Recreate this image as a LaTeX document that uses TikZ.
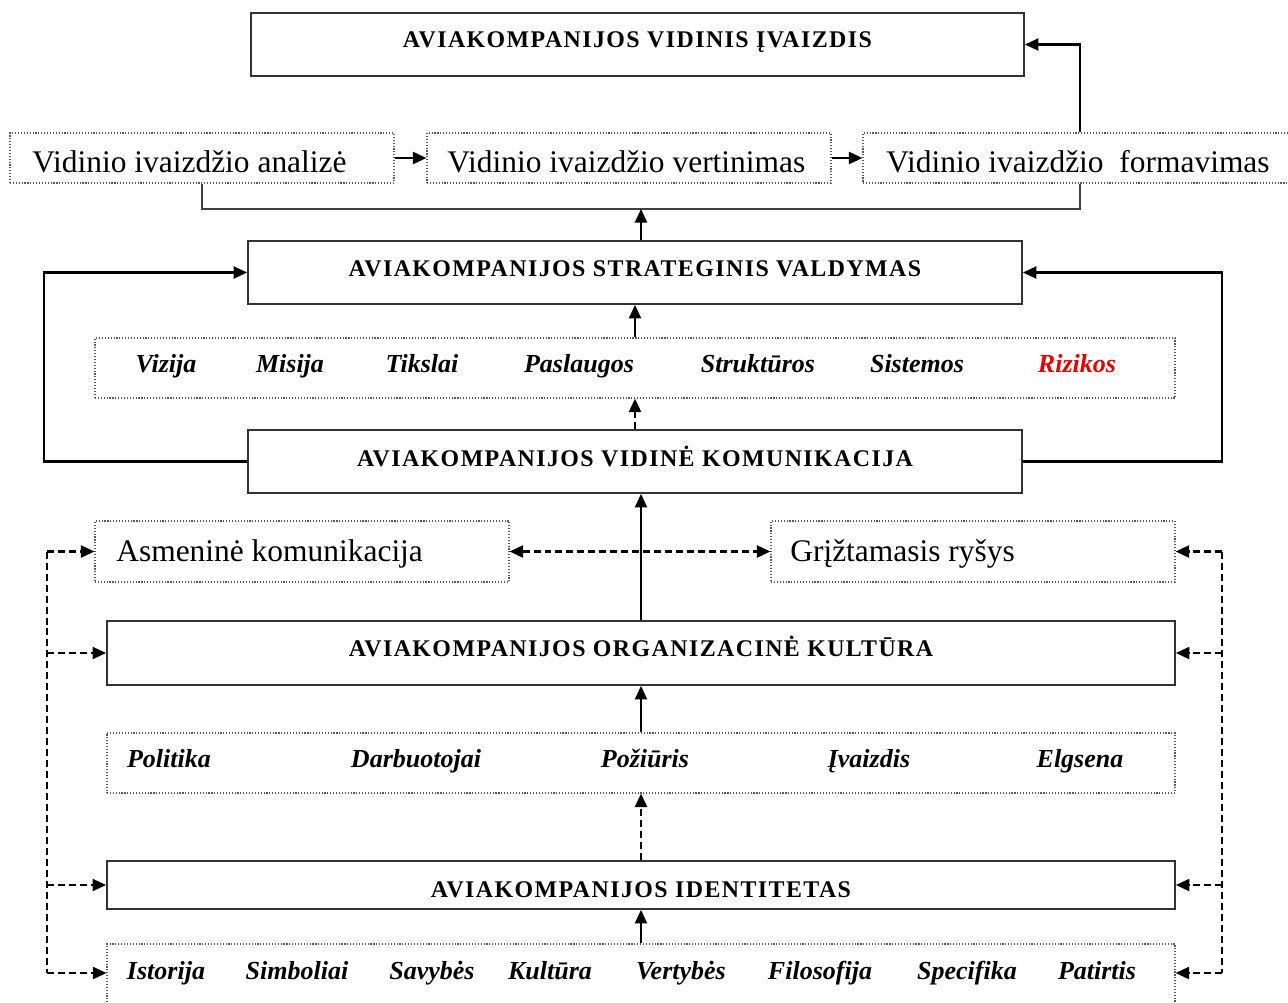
\documentclass[tikz,border=0pt]{standalone}
\usepackage{fontspec}
\setmainfont{Liberation Serif}
\usetikzlibrary{arrows.meta,fit}
\definecolor{riskred}{RGB}{235,0,0}
\begin{document}
\begin{tikzpicture}[x=0.02cm,y=-0.02cm,
  >={Triangle[length=0.27cm,width=0.24cm]},
  solidbox/.style={draw=black!80, line width=1pt, inner sep=0pt},
  dotbox/.style={draw=black!65, line width=0.65pt, densely dotted, inner sep=0pt},
  captext/.style={anchor=base, inner sep=0pt, font=\fontsize{13.6}{16}\selectfont\bfseries\addfontfeatures{LetterSpace=6}},
  plaintext/.style={anchor=base west, inner sep=0pt, font=\fontsize{17.9}{21}\selectfont},
  itemtext/.style={anchor=base, inner sep=0pt, font=\fontsize{14.8}{17}\selectfont\bfseries\itshape},
  arrline/.style={->, line width=1.3pt},
  dashline/.style={line width=1.3pt, dash pattern=on 0.14cm off 0.08cm},
  darrline/.style={->, dashline},
  thinline/.style={line width=0.8pt, draw=black!75},
]
\useasboundingbox (0,0) rectangle (1288,1002);

% ---------- boxes ----------
\node[solidbox, fit={(251,13)(1024,76)}] (top) {};
\node[captext] (topT) at (637.5,47.5) {AVIAKOMPANIJOS VIDINIS ĮVAIZDIS};

\node[dotbox, fit={(10,133)(394,183)}] (an) {};
\node[plaintext] (anT) at (32,172.5) {Vidinio ivaizdžio analizė};
\node[dotbox, fit={(427,133)(831,183)}] (ve) {};
\node[plaintext] (veT) at (447,172.5) {Vidinio ivaizdžio vertinimas};
\node[dotbox, fit={(863,133)(1297,183)}] (fo) {};
\node[plaintext] (foT) at (886,172.5) {Vidinio ivaizdžio\ \ formavimas};

\node[solidbox, fit={(248,241)(1022,304)}] (strat) {};
\node[captext] (stratT) at (635,276.5) {AVIAKOMPANIJOS STRATEGINIS VALDYMAS};

\node[dotbox, fit={(95,338)(1175,398)}] (goals) {};
\node[itemtext] (g1) at (166,372) {Vizija};
\node[itemtext] (g2) at (290,372) {Misija};
\node[itemtext] (g3) at (422,372) {Tikslai};
\node[itemtext] (g4) at (579,372) {Paslaugos};
\node[itemtext] (g5) at (758,372) {Struktūros};
\node[itemtext] (g6) at (917,372) {Sistemos};
\node[itemtext, text=riskred] (g7) at (1077,372) {Rizikos};

\node[solidbox, fit={(248,430)(1022,493)}] (kom) {};
\node[captext] (komT) at (635,466) {AVIAKOMPANIJOS VIDINĖ KOMUNIKACIJA};

\node[dotbox, fit={(95,521)(509,582)}] (asm) {};
\node[plaintext] (asmT) at (116,561) {Asmeninė komunikacija};
\node[dotbox, fit={(771,521)(1175,582)}] (grz) {};
\node[plaintext] (grzT) at (790,561) {Grįžtamasis ryšys};

\node[solidbox, fit={(107,621)(1175,685)}] (org) {};
\node[captext] (orgT) at (641,656.5) {AVIAKOMPANIJOS ORGANIZACINĖ KULTŪRA};

\node[dotbox, fit={(107,733)(1175,793)}] (cult) {};
\node[itemtext] (c1) at (169,767) {Politika};
\node[itemtext] (c2) at (416,767) {Darbuotojai};
\node[itemtext] (c3) at (645,767) {Požiūris};
\node[itemtext] (c4) at (869,767) {Įvaizdis};
\node[itemtext] (c5) at (1080,767) {Elgsena};

\node[solidbox, fit={(107,861)(1175,909)}] (ident) {};
\node[captext] (identT) at (641,897) {AVIAKOMPANIJOS IDENTITETAS};

\node[dotbox, fit={(107,944)(1175,1012)}] (hist) {};
\node[itemtext] (h1) at (166,979) {Istorija};
\node[itemtext] (h2) at (297,979) {Simboliai};
\node[itemtext] (h3) at (432,979) {Savybės};
\node[itemtext] (h4) at (550,979) {Kultūra};
\node[itemtext] (h5) at (681,979) {Vertybės};
\node[itemtext] (h6) at (820,979) {Filosofija};
\node[itemtext] (h7) at (967,979) {Specifika};
\node[itemtext] (h8) at (1097,979) {Patirtis};

% ---------- helper coordinates ----------
\coordinate (bk) at (641,209);
\coordinate (lx) at (44,0);
\coordinate (rx) at (1222,0);
\coordinate (dlx) at (47,0);
\coordinate (drx) at (1222,0);
\coordinate (hy) at (0,973);

% ---------- connectors ----------
\draw[arrline] (an.east) -- (ve.west);
\draw[arrline] (ve.east) -- (fo.west);
\draw[thinline] (an.south) |- (bk) -| (fo.south);
\draw[arrline] (strat.north -| bk) -- (bk);
\draw[arrline] (fo.north) |- (top.east);

\draw[arrline] (goals.north) -- (strat.south);
\draw[darrline] (kom.north) -- (goals.south);
\draw[arrline] (kom.west) -- (kom.west -| lx) |- (strat.west);
\draw[arrline] (kom.east) -- (kom.east -| rx) |- (strat.east);

\draw[arrline] (org.north) -- (org.north |- kom.south);
\draw[dashline, <->] (asm.east) -- (grz.west);
\draw[arrline] (cult.north) -- (org.south);
\draw[darrline] (ident.north) -- (cult.south);
\draw[arrline] (hist.north) -- (ident.south);

% left dashed feed
\draw[dashline] (asm.west -| dlx) -- (hy -| dlx);
\draw[darrline] (asm.west -| dlx) -- (asm.west);
\draw[darrline] (org.west -| dlx) -- (org.west);
\draw[darrline] (ident.west -| dlx) -- (ident.west);
\draw[darrline] (hy -| dlx) -- (hy -| hist.west);

% right dashed feed
\draw[dashline] (grz.east -| drx) -- (hy -| drx);
\draw[darrline] (grz.east -| drx) -- (grz.east);
\draw[darrline] (org.east -| drx) -- (org.east);
\draw[darrline] (ident.east -| drx) -- (ident.east);
\draw[darrline] (hy -| drx) -- (hy -| hist.east);
\end{tikzpicture}
\end{document}
